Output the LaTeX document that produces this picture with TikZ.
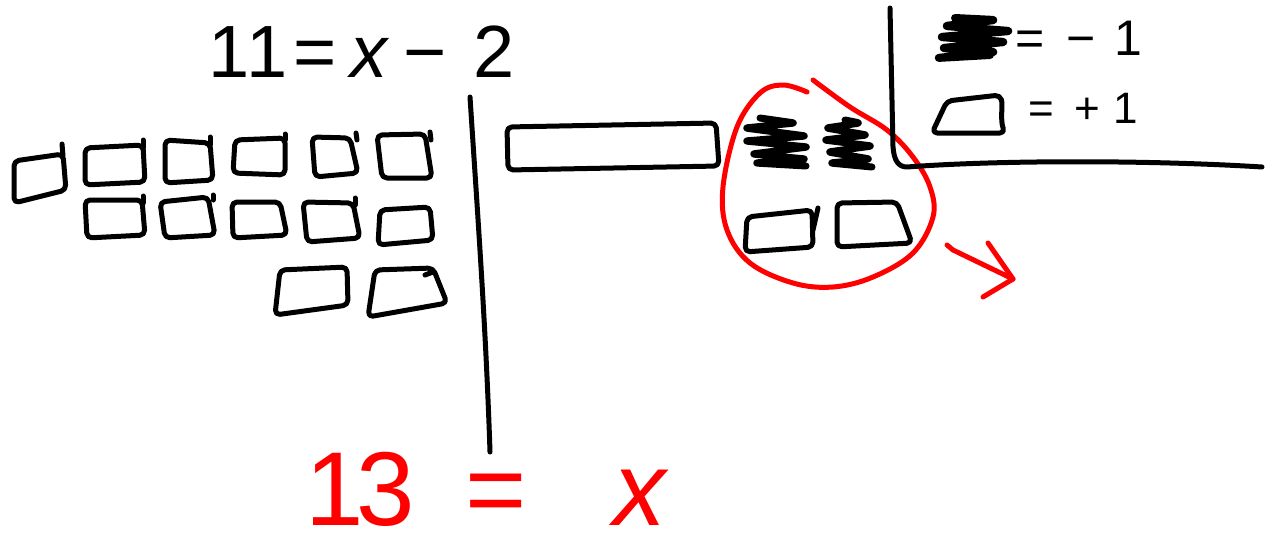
\documentclass[tikz,border=0pt]{standalone}
\usepackage{fontspec}
\setmainfont{Liberation Sans}
\definecolor{ink}{RGB}{0,0,0}
\definecolor{redink}{RGB}{255,0,0}
\tikzset{
  pen/.style={draw=ink, line width=5pt, line cap=round, line join=round},
  redpen/.style={draw=redink, line width=5pt, line cap=round, line join=round},
  blob/.style={pen, line width=7pt, rounded corners=3pt},
  hand/.style={inner sep=0pt, anchor=base west, text=ink},
  redhand/.style={hand, text=redink},
}
% a hand-drawn unit tile given by its four corners
\newcommand\unittile[4]{\draw[pen, rounded corners=5pt] #1 -- #2 -- #3 -- #4 -- cycle;}
\begin{document}
\begin{tikzpicture}[x=1pt, y=-1pt]
\useasboundingbox[fill=white] (0,0) rectangle (1271,554);

% equation at the top
\node[hand] (eqtop) at (208,77)
  {\fontsize{74}{82}\selectfont 1\kern-3pt1\hspace{6pt}=\hspace{14pt}\textit{x}\kern14pt−\kern26pt2};

% dividing line of the mat
\draw[pen] (470,97) .. controls (478,220) and (486,330) .. (490,452);

% the long x tile
\unittile{(507,127)}{(716,123)}{(719,166)}{(508,170)}

% left side: unit tiles
\unittile{(14,161)}{(63,154)}{(66,190)}{(14,203)}
\draw[pen] (62,144) -- (63,156);
\unittile{(85,148)}{(143,145)}{(145,182)}{(85,185)}
\draw[pen] (143,140) -- (143,148);
\unittile{(165,140)}{(210,143)}{(213,180)}{(165,183)}
\draw[pen] (210,137) -- (210,145);
\unittile{(235,140)}{(285,138)}{(285,175)}{(233,173)}
\draw[pen] (285,134) -- (285,140);
\unittile{(312,137)}{(350,138)}{(358,173)}{(315,177)}
\draw[pen] (356,133) -- (357,140);
\unittile{(377,135)}{(425,134)}{(432,178)}{(382,178)}
\draw[pen] (430,132) -- (431,140);

\unittile{(85,200)}{(142,200)}{(145,235)}{(87,238)}
\draw[pen] (143,196) -- (143,203);
\unittile{(160,202)}{(208,197)}{(215,235)}{(165,238)}
\draw[pen] (213,195) -- (213,200);
\unittile{(232,202)}{(280,202)}{(287,235)}{(233,238)}
\unittile{(303,202)}{(353,203)}{(360,238)}{(307,242)}
\draw[pen] (355,198) -- (355,205);
\unittile{(380,210)}{(430,207)}{(433,240)}{(378,245)}

\unittile{(280,270)}{(347,267)}{(348,305)}{(275,315)}
\unittile{(375,270)}{(433,268)}{(447,303)}{(368,317)}
\draw[pen] (425,275) -- (433,272);

% right side: two negative tiles and two unit tiles
\draw[blob] (760,118) -- (795,123) -- (745,128) -- (806,136) -- (745,141) -- (808,147)
  -- (752,154) -- (806,159) -- (755,163) -- (806,166);
\draw[blob] (845,120) -- (860,123) -- (826,128) -- (867,135) -- (824,140) -- (872,146)
  -- (828,152) -- (870,159) -- (830,163) -- (872,167);
\unittile{(747,217)}{(812,210)}{(813,247)}{(745,252)}
\draw[pen] (818,208) -- (813,230);
\unittile{(837,203)}{(897,202)}{(912,243)}{(837,247)}

% zero pair circled in red
\draw[redpen] plot[smooth, tension=0.6] coordinates {
  (807,92) (783,85) (760,93) (737,127) (723,187) (727,230) (750,263) (793,283)
  (833,287) (873,277) (913,253) (933,217) (930,187) (913,157) (887,130)
  (850,107) (813,80)};
\coordinate (arrtail) at (947,245);
\coordinate (arrtip) at (1013,279);
\draw[redpen] (arrtail) -- (953,250) -- (arrtip);
\draw[redpen] (988,243) -- (arrtip) -- (983,297);

% legend box
\draw[pen] (890,8) -- (893,147) .. controls (894,160) and (898,167) .. (907,167)
  .. controls (1000,160) and (1150,160) .. (1262,167);
\draw[blob, line width=8pt] (955,18) -- (995,20) -- (945,26) -- (1010,31) -- (940,37)
  -- (1005,42) -- (942,48) -- (995,52) -- (937,58) -- (990,55);
\node[hand] (negkey) at (1015,55)
  {\fontsize{50}{56}\selectfont =\hspace{22pt}−\hspace{19pt}1};
\draw[pen, rounded corners=5pt] (947,101) -- (1000,95) .. controls (1003,105) and (1000,120) .. (1005,133)
  -- (932,133) -- cycle;
\node[hand] (poskey) at (1028,123)
  {\fontsize{44}{50}\selectfont =\hspace{21pt}+\hspace{13pt}1};

% solution in red
\node[redhand] (eqbottom) at (305,525)
  {\fontsize{105}{110}\selectfont 1\kern-7pt3\hspace{51pt}=\hspace{86pt}\textit{x}};
\end{tikzpicture}
\end{document}
